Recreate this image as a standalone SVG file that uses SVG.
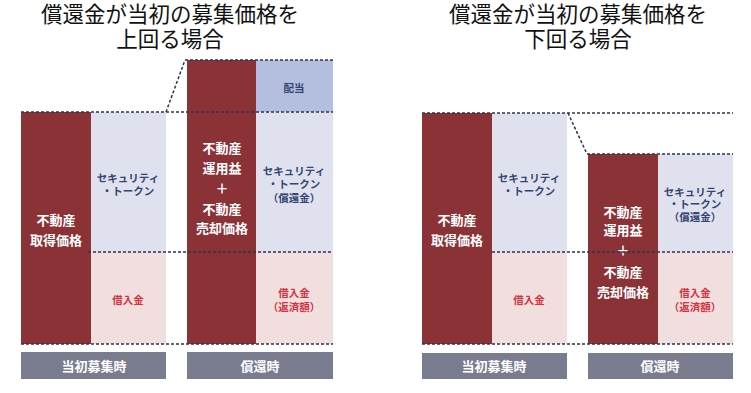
<svg xmlns="http://www.w3.org/2000/svg" width="751" height="393" viewBox="0 0 751 393">
<style>
.title{font-family:"Noto Sans CJK JP","Noto Sans CJK SC",sans-serif;font-size:21.5px;fill:#111;text-anchor:middle}
.t{font-family:"Noto Sans CJK JP","Noto Sans CJK SC",sans-serif;font-weight:bold;text-anchor:middle}
.w{fill:#fff;font-size:13px}
.b{fill:#34466f;font-size:10.5px}
.r{fill:#d5303c;font-size:10.5px}
.lab{fill:#fff;font-size:13px}
.dr{fill:#8b3237}
.lv{fill:#dfe1ef}
.pk{fill:#f1dfe0}
.bl{fill:#b4bfdf}
.gr{fill:#797c8f}
.d{stroke:#2c3550;stroke-width:1.5;stroke-dasharray:3 2;fill:none}
</style>
<g id="titles">
<text class="title" x="170" y="22">償還金が当初の募集価格を</text>
<text class="title" x="170" y="47">上回る場合</text>
<text class="title" x="578" y="22">償還金が当初の募集価格を</text>
<text class="title" x="578" y="47">下回る場合</text>
</g>
<g id="left-acq">
<rect class="dr" x="21" y="112" width="70" height="232"/>
<text class="t w" x="56" y="225">不動産</text>
<text class="t w" x="56" y="245">取得価格</text>
</g>
<g id="left-st">
<rect class="lv" x="91" y="112" width="75" height="140"/>
<text class="t b" x="128" y="182">セキュリティ</text>
<text class="t b" x="128" y="195">・トークン</text>
</g>
<g id="left-loan">
<rect class="pk" x="91" y="252" width="75" height="92"/>
<text class="t r" x="128" y="304">借入金</text>
</g>
<g id="left-re">
<rect class="dr" x="187" y="60" width="69" height="284"/>
<text class="t w" x="222" y="153">不動産</text>
<text class="t w" x="222" y="173">運用益</text>
<text class="t w" x="222" y="193">＋</text>
<text class="t w" x="222" y="214">不動産</text>
<text class="t w" x="222" y="233">売却価格</text>
</g>
<g id="left-div">
<rect class="bl" x="256" y="60" width="77" height="52"/>
<text class="t b" x="294" y="92">配当</text>
</g>
<g id="left-st2">
<rect class="lv" x="256" y="112" width="77" height="140"/>
<text class="t b" x="294" y="175">セキュリティ</text>
<text class="t b" x="294" y="188">・トークン</text>
<text class="t b" x="294" y="202">（償還金）</text>
</g>
<g id="left-loan2">
<rect class="pk" x="256" y="252" width="77" height="92"/>
<text class="t r" x="294" y="297">借入金</text>
<text class="t r" x="294" y="311">（返済額）</text>
</g>
<g id="left-lab1">
<rect class="gr" x="21" y="352" width="145" height="27"/>
<text class="t lab" x="94" y="370.5">当初募集時</text>
</g>
<g id="left-lab2">
<rect class="gr" x="187" y="352" width="146" height="27"/>
<text class="t lab" x="260" y="370.5">償還時</text>
</g>
<g id="right-acq">
<rect class="dr" x="422" y="113" width="70" height="231"/>
<text class="t w" x="457" y="225">不動産</text>
<text class="t w" x="457" y="245">取得価格</text>
</g>
<g id="right-st">
<rect class="lv" x="492" y="113" width="75" height="139"/>
<text class="t b" x="529" y="182">セキュリティ</text>
<text class="t b" x="529" y="195">・トークン</text>
</g>
<g id="right-loan">
<rect class="pk" x="492" y="252" width="75" height="92"/>
<text class="t r" x="529" y="304">借入金</text>
</g>
<g id="right-re">
<rect class="dr" x="588" y="154" width="70" height="190"/>
<text class="t w" x="623" y="217">不動産</text>
<text class="t w" x="623" y="235">運用益</text>
<text class="t w" x="623" y="255">＋</text>
<text class="t w" x="623" y="277">不動産</text>
<text class="t w" x="623" y="297">売却価格</text>
</g>
<g id="right-st2">
<rect class="lv" x="658" y="154" width="75" height="98"/>
<text class="t b" x="695" y="196">セキュリティ</text>
<text class="t b" x="695" y="208">・トークン</text>
<text class="t b" x="695" y="221">（償還金）</text>
</g>
<g id="right-loan2">
<rect class="pk" x="658" y="252" width="75" height="92"/>
<text class="t r" x="695" y="297">借入金</text>
<text class="t r" x="695" y="311">（返済額）</text>
</g>
<g id="right-lab1">
<rect class="gr" x="422" y="353" width="145" height="26"/>
<text class="t lab" x="494" y="370.5">当初募集時</text>
</g>
<g id="right-lab2">
<rect class="gr" x="588" y="353" width="145" height="26"/>
<text class="t lab" x="660" y="370.5">償還時</text>
</g>
<g id="connectors">
<path class="d" d="M21 112H333M88 252H333M21 344H333M185 60H333M166 112L185 60"/>
<path class="d" d="M422 113H733M492 252H733M422 344H733M587 154H733M568 113L587 154"/>
</g>
</svg>
